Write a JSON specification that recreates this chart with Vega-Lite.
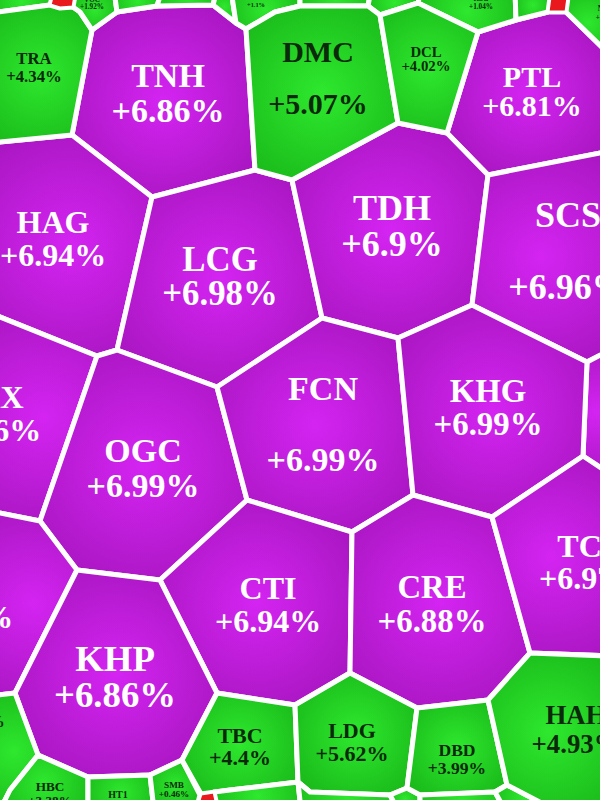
{
  "$schema": "https://vega.github.io/schema/vega-lite/v6.json",
  "width": 600,
  "height": 800,
  "padding": 0,
  "autosize": "none",
  "background": "#ffffff",
  "view": {"stroke": null},
  "projection": {"type": "identity", "scale": 1, "translate": [0, 0]},
  "datasets": {
    "cells": [
      {"type": "Feature", "properties": {"id": "T1", "g": "g"}, "geometry": {"type": "Polygon", "coordinates": [[[-10,-10],[54,-10],[50,5],[-10,13],[-10,-10]]]}},
      {"type": "Feature", "properties": {"id": "T2", "g": "r"}, "geometry": {"type": "Polygon", "coordinates": [[[54,-10],[76,-10],[73,7],[60,8],[50,5],[54,-10]]]}},
      {"type": "Feature", "properties": {"id": "TRA", "g": "g"}, "geometry": {"type": "Polygon", "coordinates": [[[-10,13],[50,5],[60,8],[73,7],[80,12],[92,30],[72,135],[-10,143],[-10,13]]]}},
      {"type": "Feature", "properties": {"id": "VOC", "g": "g"}, "geometry": {"type": "Polygon", "coordinates": [[[76,-10],[114,-10],[117,12],[92,30],[80,12],[73,7],[76,-10]]]}},
      {"type": "Feature", "properties": {"id": "T4", "g": "g"}, "geometry": {"type": "Polygon", "coordinates": [[[114,-10],[162,-10],[157,6],[117,12],[114,-10]]]}},
      {"type": "Feature", "properties": {"id": "T5", "g": "g"}, "geometry": {"type": "Polygon", "coordinates": [[[162,-10],[217,-10],[213,5],[157,6],[162,-10]]]}},
      {"type": "Feature", "properties": {"id": "T6", "g": "g"}, "geometry": {"type": "Polygon", "coordinates": [[[217,-10],[231,-10],[236,23],[213,5],[217,-10]]]}},
      {"type": "Feature", "properties": {"id": "T7", "g": "g"}, "geometry": {"type": "Polygon", "coordinates": [[[231,-10],[300,-10],[300,6],[275,12],[246,29],[236,23],[231,-10]]]}},
      {"type": "Feature", "properties": {"id": "T8", "g": "g"}, "geometry": {"type": "Polygon", "coordinates": [[[300,-10],[371,-10],[368,6],[300,6],[300,-10]]]}},
      {"type": "Feature", "properties": {"id": "T9", "g": "g"}, "geometry": {"type": "Polygon", "coordinates": [[[371,-10],[421,-10],[418,3],[380,15],[368,6],[371,-10]]]}},
      {"type": "Feature", "properties": {"id": "T10", "g": "g"}, "geometry": {"type": "Polygon", "coordinates": [[[421,-10],[515,-10],[516,20],[478,32],[418,3],[421,-10]]]}},
      {"type": "Feature", "properties": {"id": "T11", "g": "g"}, "geometry": {"type": "Polygon", "coordinates": [[[515,-10],[551,-10],[548,12],[516,20],[515,-10]]]}},
      {"type": "Feature", "properties": {"id": "T12", "g": "r"}, "geometry": {"type": "Polygon", "coordinates": [[[551,-10],[569,-10],[566,12],[548,12],[551,-10]]]}},
      {"type": "Feature", "properties": {"id": "T13", "g": "g"}, "geometry": {"type": "Polygon", "coordinates": [[[569,-10],[610,-10],[610,55],[566,12],[569,-10]]]}},
      {"type": "Feature", "properties": {"id": "TNH", "g": "c"}, "geometry": {"type": "Polygon", "coordinates": [[[92,30],[117,12],[157,6],[213,5],[236,23],[246,29],[255,170],[152,197],[72,135],[92,30]]]}},
      {"type": "Feature", "properties": {"id": "DMC", "g": "g"}, "geometry": {"type": "Polygon", "coordinates": [[[246,29],[275,12],[300,6],[368,6],[380,15],[398,123],[292,180],[255,170],[246,29]]]}},
      {"type": "Feature", "properties": {"id": "DCL", "g": "g"}, "geometry": {"type": "Polygon", "coordinates": [[[380,15],[418,3],[478,32],[447,133],[398,123],[380,15]]]}},
      {"type": "Feature", "properties": {"id": "PTL", "g": "c"}, "geometry": {"type": "Polygon", "coordinates": [[[478,32],[516,20],[548,12],[566,12],[610,55],[610,151],[488,175],[447,133],[478,32]]]}},
      {"type": "Feature", "properties": {"id": "HAG", "g": "c"}, "geometry": {"type": "Polygon", "coordinates": [[[-10,143],[72,135],[152,197],[117,350],[97,356],[-10,313],[-10,143]]]}},
      {"type": "Feature", "properties": {"id": "LCG", "g": "c"}, "geometry": {"type": "Polygon", "coordinates": [[[152,197],[255,170],[292,180],[322,318],[217,387],[117,350],[152,197]]]}},
      {"type": "Feature", "properties": {"id": "TDH", "g": "c"}, "geometry": {"type": "Polygon", "coordinates": [[[292,180],[398,123],[447,133],[488,175],[472,305],[398,338],[322,318],[292,180]]]}},
      {"type": "Feature", "properties": {"id": "SCS", "g": "c"}, "geometry": {"type": "Polygon", "coordinates": [[[488,175],[610,151],[610,350],[587,362],[472,305],[488,175]]]}},
      {"type": "Feature", "properties": {"id": "R1", "g": "c"}, "geometry": {"type": "Polygon", "coordinates": [[[587,362],[610,350],[610,474],[583,456],[587,362]]]}},
      {"type": "Feature", "properties": {"id": "HAX", "g": "c"}, "geometry": {"type": "Polygon", "coordinates": [[[-10,313],[97,356],[40,521],[-10,511],[-10,313]]]}},
      {"type": "Feature", "properties": {"id": "OGC", "g": "c"}, "geometry": {"type": "Polygon", "coordinates": [[[97,356],[117,350],[217,387],[247,500],[160,580],[77,570],[40,521],[97,356]]]}},
      {"type": "Feature", "properties": {"id": "FCN", "g": "c"}, "geometry": {"type": "Polygon", "coordinates": [[[217,387],[322,318],[398,338],[413,495],[352,532],[247,500],[217,387]]]}},
      {"type": "Feature", "properties": {"id": "KHG", "g": "c"}, "geometry": {"type": "Polygon", "coordinates": [[[398,338],[472,305],[587,362],[583,456],[492,517],[413,495],[398,338]]]}},
      {"type": "Feature", "properties": {"id": "DRH", "g": "c"}, "geometry": {"type": "Polygon", "coordinates": [[[-10,511],[40,521],[77,570],[15,693],[-10,696],[-10,511]]]}},
      {"type": "Feature", "properties": {"id": "CTI", "g": "c"}, "geometry": {"type": "Polygon", "coordinates": [[[247,500],[352,532],[350,673],[295,705],[217,693],[160,580],[247,500]]]}},
      {"type": "Feature", "properties": {"id": "CRE", "g": "c"}, "geometry": {"type": "Polygon", "coordinates": [[[352,532],[413,495],[492,517],[530,653],[488,700],[417,708],[350,673],[352,532]]]}},
      {"type": "Feature", "properties": {"id": "TCO", "g": "c"}, "geometry": {"type": "Polygon", "coordinates": [[[492,517],[583,456],[610,474],[610,656],[530,653],[492,517]]]}},
      {"type": "Feature", "properties": {"id": "KHP", "g": "c"}, "geometry": {"type": "Polygon", "coordinates": [[[77,570],[160,580],[217,693],[182,760],[150,775],[88,777],[38,755],[15,693],[77,570]]]}},
      {"type": "Feature", "properties": {"id": "L3", "g": "g"}, "geometry": {"type": "Polygon", "coordinates": [[[-10,696],[15,693],[38,755],[10,790],[0,810],[-10,810],[-10,696]]]}},
      {"type": "Feature", "properties": {"id": "HBC", "g": "g"}, "geometry": {"type": "Polygon", "coordinates": [[[38,755],[88,777],[88,810],[0,810],[10,790],[38,755]]]}},
      {"type": "Feature", "properties": {"id": "HT1", "g": "g"}, "geometry": {"type": "Polygon", "coordinates": [[[88,777],[150,775],[154,810],[88,810],[88,777]]]}},
      {"type": "Feature", "properties": {"id": "SMB", "g": "g"}, "geometry": {"type": "Polygon", "coordinates": [[[150,775],[182,760],[200,795],[196,810],[154,810],[150,775]]]}},
      {"type": "Feature", "properties": {"id": "TBC", "g": "g"}, "geometry": {"type": "Polygon", "coordinates": [[[217,693],[295,705],[298,782],[230,790],[201,794],[182,760],[217,693]]]}},
      {"type": "Feature", "properties": {"id": "R2", "g": "r"}, "geometry": {"type": "Polygon", "coordinates": [[[201,794],[214,792],[218,810],[196,810],[201,794]]]}},
      {"type": "Feature", "properties": {"id": "B1", "g": "g"}, "geometry": {"type": "Polygon", "coordinates": [[[214,792],[230,790],[298,782],[301,810],[218,810],[214,792]]]}},
      {"type": "Feature", "properties": {"id": "LDG", "g": "g"}, "geometry": {"type": "Polygon", "coordinates": [[[295,705],[350,673],[417,708],[407,788],[390,795],[310,792],[298,782],[295,705]]]}},
      {"type": "Feature", "properties": {"id": "B2", "g": "g"}, "geometry": {"type": "Polygon", "coordinates": [[[298,782],[310,792],[390,795],[398,810],[301,810],[298,782]]]}},
      {"type": "Feature", "properties": {"id": "B3", "g": "g"}, "geometry": {"type": "Polygon", "coordinates": [[[390,795],[407,788],[420,795],[420,810],[398,810],[390,795]]]}},
      {"type": "Feature", "properties": {"id": "DBD", "g": "g"}, "geometry": {"type": "Polygon", "coordinates": [[[417,708],[488,700],[507,785],[495,792],[420,795],[407,788],[417,708]]]}},
      {"type": "Feature", "properties": {"id": "B4", "g": "g"}, "geometry": {"type": "Polygon", "coordinates": [[[420,795],[495,792],[505,810],[420,810],[420,795]]]}},
      {"type": "Feature", "properties": {"id": "B5", "g": "g"}, "geometry": {"type": "Polygon", "coordinates": [[[495,792],[507,785],[555,810],[505,810],[495,792]]]}},
      {"type": "Feature", "properties": {"id": "HAH", "g": "g"}, "geometry": {"type": "Polygon", "coordinates": [[[488,700],[530,653],[610,656],[610,810],[555,810],[507,785],[488,700]]]}}
    ],
    "labels": [
      {"ticker": "TNH", "pct": "+6.86%", "x": 168, "ty": 77, "py": 112, "w": 0.85, "g": "c"},
      {"ticker": "TRA", "pct": "+4.34%", "x": 34, "ty": 59, "py": 77, "w": 0.42, "g": "g"},
      {"ticker": "DMC", "pct": "+5.07%", "x": 318, "ty": 53, "py": 105, "w": 0.75, "g": "g"},
      {"ticker": "DCL", "pct": "+4.02%", "x": 426, "ty": 53, "py": 67, "w": 0.37, "g": "g"},
      {"ticker": "PTL", "pct": "+6.81%", "x": 532, "ty": 78, "py": 107, "w": 0.75, "g": "c"},
      {"ticker": "HAG", "pct": "+6.94%", "x": 53, "ty": 223, "py": 256, "w": 0.8, "g": "c"},
      {"ticker": "LCG", "pct": "+6.98%", "x": 220, "ty": 261, "py": 295, "w": 0.87, "g": "c"},
      {"ticker": "TDH", "pct": "+6.9%", "x": 392, "ty": 209, "py": 245, "w": 0.9, "g": "c"},
      {"ticker": "SCS", "pct": "+6.96%", "x": 568, "ty": 216, "py": 288, "w": 0.9, "g": "c"},
      {"ticker": "FCN", "pct": "+6.99%", "x": 323, "ty": 390, "py": 461, "w": 0.85, "g": "c"},
      {"ticker": "KHG", "pct": "+6.99%", "x": 488, "ty": 392, "py": 425, "w": 0.82, "g": "c"},
      {"ticker": "OGC", "pct": "+6.99%", "x": 143, "ty": 452, "py": 487, "w": 0.85, "g": "c"},
      {"ticker": "CTI", "pct": "+6.94%", "x": 268, "ty": 589, "py": 622, "w": 0.8, "g": "c"},
      {"ticker": "CRE", "pct": "+6.88%", "x": 432, "ty": 588, "py": 622, "w": 0.82, "g": "c"},
      {"ticker": "KHP", "pct": "+6.86%", "x": 115, "ty": 660, "py": 696, "w": 0.92, "g": "c"},
      {"ticker": "TCO", "pct": "+6.97%", "x": 592, "ty": 547, "py": 579, "w": 0.8, "g": "c"},
      {"ticker": "HAX", "pct": "+6.96%", "x": -12, "ty": 398, "py": 431, "w": 0.8, "g": "c"},
      {"ticker": "DRH", "pct": "+6.97%", "x": -40, "ty": 585, "py": 618, "w": 0.8, "g": "c"},
      {"ticker": "LDG", "pct": "+5.62%", "x": 352, "ty": 731, "py": 754, "w": 0.55, "g": "g"},
      {"ticker": "DBD", "pct": "+3.99%", "x": 457, "ty": 751, "py": 769, "w": 0.44, "g": "g"},
      {"ticker": "HAH", "pct": "+4.93%", "x": 576, "ty": 716, "py": 745, "w": 0.67, "g": "g"},
      {"ticker": "TBC", "pct": "+4.4%", "x": 240, "ty": 736, "py": 758, "w": 0.55, "g": "g"},
      {"ticker": "HBC", "pct": "+3.38%", "x": 50, "ty": 787, "py": 801, "w": 0.33, "g": "g"},
      {"ticker": "SMB", "pct": "+0.46%", "x": 174, "ty": 785, "py": 794, "w": 0.23, "g": "g"},
      {"ticker": "HT1", "pct": "+1.2%", "x": 118, "ty": 795, "py": 808, "w": 0.25, "g": "g"},
      {"ticker": "VOC", "pct": "+1.92%", "x": 92, "ty": 0, "py": 7, "w": 0.18, "g": "g"},
      {"ticker": "SHI", "pct": "+1.1%", "x": 256, "ty": -3, "py": 5, "w": 0.16, "g": "g"},
      {"ticker": "HSG", "pct": "+1.04%", "x": 481, "ty": -1, "py": 7, "w": 0.18, "g": "g"},
      {"ticker": "NKG", "pct": "+1.5%", "x": 606, "ty": 9, "py": 18, "w": 0.18, "g": "g"},
      {"ticker": "VSC", "pct": "+4.1%", "x": -19, "ty": 700, "py": 722, "w": 0.42, "g": "g"}
    ]
  },
  "layer": [
    {
      "data": {"name": "cells"},
      "transform": [{"filter": "datum.properties.g === 'c'"}],
      "mark": {"type": "geoshape", "stroke": "#ffffff", "strokeWidth": 5, "strokeJoin": "round",
        "fill": {"gradient": "radial", "x1": 0.5, "y1": 0.5, "r1": 0, "x2": 0.5, "y2": 0.5, "r2": 0.62,
          "stops": [{"offset": 0, "color": "#d424f2"}, {"offset": 1, "color": "#a515bd"}]}}
    },
    {
      "data": {"name": "cells"},
      "transform": [{"filter": "datum.properties.g === 'g'"}],
      "mark": {"type": "geoshape", "stroke": "#ffffff", "strokeWidth": 5, "strokeJoin": "round",
        "fill": {"gradient": "radial", "x1": 0.5, "y1": 0.5, "r1": 0, "x2": 0.5, "y2": 0.5, "r2": 0.62,
          "stops": [{"offset": 0, "color": "#2ee82e"}, {"offset": 1, "color": "#19b819"}]}}
    },
    {
      "data": {"name": "cells"},
      "transform": [{"filter": "datum.properties.g === 'r'"}],
      "mark": {"type": "geoshape", "stroke": "#ffffff", "strokeWidth": 3, "strokeJoin": "round", "fill": "#e8181c"}
    },
    {
      "data": {"name": "labels"},
      "mark": {"type": "text", "font": "Liberation Serif", "fontWeight": "bold", "baseline": "middle", "align": "center"},
      "encoding": {
        "longitude": {"field": "x", "type": "quantitative"},
        "latitude": {"field": "ty", "type": "quantitative"},
        "text": {"field": "ticker"},
        "size": {"field": "w", "type": "quantitative", "scale": {"domain": [0, 1], "range": [0, 40], "zero": true}, "legend": null},
        "color": {"field": "g", "type": "nominal", "scale": {"domain": ["c", "g", "r"], "range": ["#ffffff", "#0b2a0b", "#ffffff"]}, "legend": null}
      }
    },
    {
      "data": {"name": "labels"},
      "mark": {"type": "text", "font": "Liberation Serif", "fontWeight": "bold", "baseline": "middle", "align": "center"},
      "encoding": {
        "longitude": {"field": "x", "type": "quantitative"},
        "latitude": {"field": "py", "type": "quantitative"},
        "text": {"field": "pct"},
        "size": {"field": "w", "type": "quantitative", "scale": {"domain": [0, 1], "range": [0, 40], "zero": true}, "legend": null},
        "color": {"field": "g", "type": "nominal", "scale": {"domain": ["c", "g", "r"], "range": ["#ffffff", "#0b2a0b", "#ffffff"]}, "legend": null}
      }
    }
  ]
}
